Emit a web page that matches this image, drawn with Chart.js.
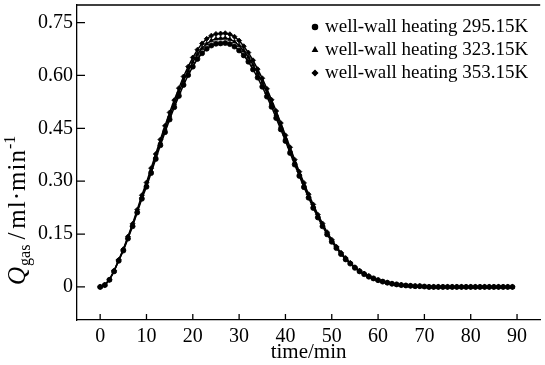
<!DOCTYPE html>
<html>
<head>
<meta charset="utf-8">
<script src="https://cdn.jsdelivr.net/npm/chart.js@4/dist/chart.umd.min.js"></script>
<style>
html,body{margin:0;padding:0;background:#fff;}
#wrap{width:545px;height:365px;}
</style>
</head>
<body>
<div id="wrap"><canvas id="c" width="545" height="365"></canvas></div>
<script>
const times = [0,1,2,3,4,5,6,7,8,9,10,11,12,13,14,15,16,17,18,19,20,21,22,23,24,25,26,27,28,29,30,31,32,33,34,35,36,37,38,39,40,41,42,43,44,45,46,47,48,49,50,51,52,53,54,55,56,57,58,59,60,61,62,63,64,65,66,67,68,69,70,71,72,73,74,75,76,77,78,79,80,81,82,83,84,85,86,87,88,89];

const q295 = [0.000,0.005,0.020,0.044,0.074,0.103,0.137,0.172,0.211,0.250,0.284,0.323,0.363,0.402,0.439,0.475,0.510,0.542,0.573,0.601,0.625,0.647,0.663,0.676,0.685,0.690,0.691,0.692,0.689,0.682,0.671,0.657,0.639,0.617,0.594,0.568,0.540,0.511,0.479,0.447,0.414,0.380,0.347,0.315,0.283,0.253,0.224,0.197,0.172,0.149,0.128,0.110,0.093,0.078,0.066,0.054,0.044,0.036,0.029,0.024,0.019,0.015,0.012,0.009,0.007,0.005,0.004,0.003,0.002,0.002,0.001,0,0,0,0,0,0,0,0,0,0,0,0,0,0,0,0,0,0,0];

const q323 = [0.000,0.005,0.020,0.045,0.075,0.105,0.140,0.175,0.215,0.255,0.290,0.330,0.370,0.410,0.448,0.485,0.520,0.553,0.585,0.613,0.638,0.660,0.677,0.690,0.699,0.704,0.705,0.706,0.703,0.696,0.685,0.670,0.652,0.630,0.606,0.580,0.551,0.521,0.489,0.456,0.422,0.388,0.354,0.321,0.289,0.258,0.229,0.201,0.176,0.152,0.131,0.112,0.095,0.080,0.067,0.055,0.045,0.037,0.030,0.024,0.019,0.015,0.012,0.009,0.007,0.005,0.004,0.003,0.002,0.002,0.001,0,0,0,0,0,0,0,0,0,0,0,0,0,0,0,0,0,0,0];

const q353 = [0.000,0.005,0.020,0.046,0.077,0.107,0.143,0.179,0.219,0.260,0.296,0.337,0.377,0.418,0.457,0.495,0.530,0.564,0.597,0.625,0.651,0.673,0.691,0.704,0.713,0.718,0.719,0.720,0.717,0.710,0.699,0.683,0.665,0.643,0.618,0.592,0.562,0.531,0.499,0.465,0.430,0.396,0.361,0.327,0.295,0.263,0.234,0.205,0.180,0.155,0.134,0.114,0.097,0.082,0.068,0.056,0.046,0.038,0.031,0.024,0.019,0.015,0.012,0.009,0.007,0.005,0.004,0.003,0.002,0.002,0.001,0,0,0,0,0,0,0,0,0,0,0,0,0,0,0,0,0,0,0];

const seriesLabels = ['well-wall heating 295.15K','well-wall heating 323.15K','well-wall heating 353.15K'];
const xTicks = [0,10,20,30,40,50,60,70,80,90];
const yTicks = [0,0.15,0.30,0.45,0.60,0.75];
const yTickLabels = ['0','0.15','0.30','0.45','0.60','0.75'];

const SERIF = '"Liberation Serif","Times New Roman",serif';
Chart.defaults.color = '#000';
Chart.defaults.font.family = SERIF;

const toPts = arr => times.map((t,i)=>({x:t,y:arr[i]}));
const styles = ['circle','triangle','rectRot'];

const datasets = [q295,q323,q353].map((arr,i)=>({
  label: seriesLabels[i],
  data: toPts(arr),
  borderColor:'#000',
  backgroundColor:'#000',
  borderWidth:1.5,
  pointStyle: styles[i],
  pointRadius: 2.5,
  pointBorderWidth: 0.8,
  pointBackgroundColor:'#000',
  pointBorderColor:'#000',
  tension:0
}));

const framePlugin = {
  id:'frame',
  afterDraw(chart){
    const ctx = chart.ctx;
    const a = chart.chartArea;
    const xs = chart.scales.x, ys = chart.scales.y;
    ctx.save();
    ctx.strokeStyle='#000';
    ctx.lineWidth=1.3;
    ctx.beginPath();
    ctx.moveTo(a.left, a.top); ctx.lineTo(a.right, a.top);
    xTicks.forEach(v=>{const p=xs.getPixelForValue(v); ctx.moveTo(p,a.bottom); ctx.lineTo(p,a.bottom-6);});
    yTicks.forEach(v=>{const p=ys.getPixelForValue(v); ctx.moveTo(a.left,p); ctx.lineTo(a.left+8,p);});
    ctx.stroke();

    // legend
    ctx.fillStyle='#000';
    ctx.font = '19px '+SERIF;
    ctx.textBaseline='middle';
    ctx.textAlign='left';
    const ly = [27,50,73];
    seriesLabels.forEach((lab,i)=>{
      Chart.helpers.drawPoint(ctx,{pointStyle:styles[i],radius:2.6,rotation:0,borderWidth:0.6},315,ly[i]);
      ctx.fill();
      ctx.fillText(lab,325,ly[i]);
    });

    // y title
    ctx.translate(25,285);
    ctx.rotate(-Math.PI/2);
    ctx.textBaseline='alphabetic';
    let x=0;
    ctx.font='italic 25px '+SERIF; ctx.fillText('Q',x,0); x+=ctx.measureText('Q').width+1;
    ctx.font='16px '+SERIF; ctx.fillText('gas',x,5); x+=ctx.measureText('gas').width+5;
    ctx.font='25px '+SERIF; ctx.fillText('/',x,0); x+=ctx.measureText('/').width+4;
    ctx.letterSpacing='1px';
    ctx.fillText('ml\u00b7min',x,0); x+=ctx.measureText('ml\u00b7min').width;
    ctx.letterSpacing='0px';
    ctx.font='16px '+SERIF; ctx.fillText('-1',x,-10);
    ctx.restore();
  }
};

new Chart(document.getElementById('c'),{
  type:'line',
  data:{datasets},
  options:{
    responsive:false,
    animation:false,
    layout:{padding:{top:5,right:0,left:0,bottom:0}},
    plugins:{legend:{display:false},tooltip:{enabled:false}},
    scales:{
      x:{
        type:'linear', min:-5, max:95,
        afterBuildTicks(s){ s.ticks = xTicks.map(v=>({value:v})); },
        afterFit(s){ s.height = 45; s.paddingLeft = 0; s.paddingRight = 0; },
        grid:{display:false, drawTicks:false},
        border:{display:true,color:'#000',width:1.3},
        ticks:{font:{size:20,family:SERIF},padding:5,color:'#000',maxRotation:0,autoSkip:false},
        title:{display:true,text:'time/min',font:{size:21,family:SERIF},color:'#000',padding:{top:0,bottom:0}}
      },
      y:{
        min:-0.094, max:0.8,
        afterBuildTicks(s){ s.ticks = yTicks.map(v=>({value:v})); },
        afterFit(s){ s.width = 77; s.paddingTop = 0; s.paddingBottom = 0; },
        grid:{display:false, drawTicks:false},
        border:{display:true,color:'#000',width:1.3},
        ticks:{font:{size:20,family:SERIF},padding:4,color:'#000',autoSkip:false,
          callback:(v)=>{const i=yTicks.indexOf(v); return i>=0? yTickLabels[i] : '';}}
      }
    }
  },
  plugins:[framePlugin]
});
</script>
</body>
</html>
